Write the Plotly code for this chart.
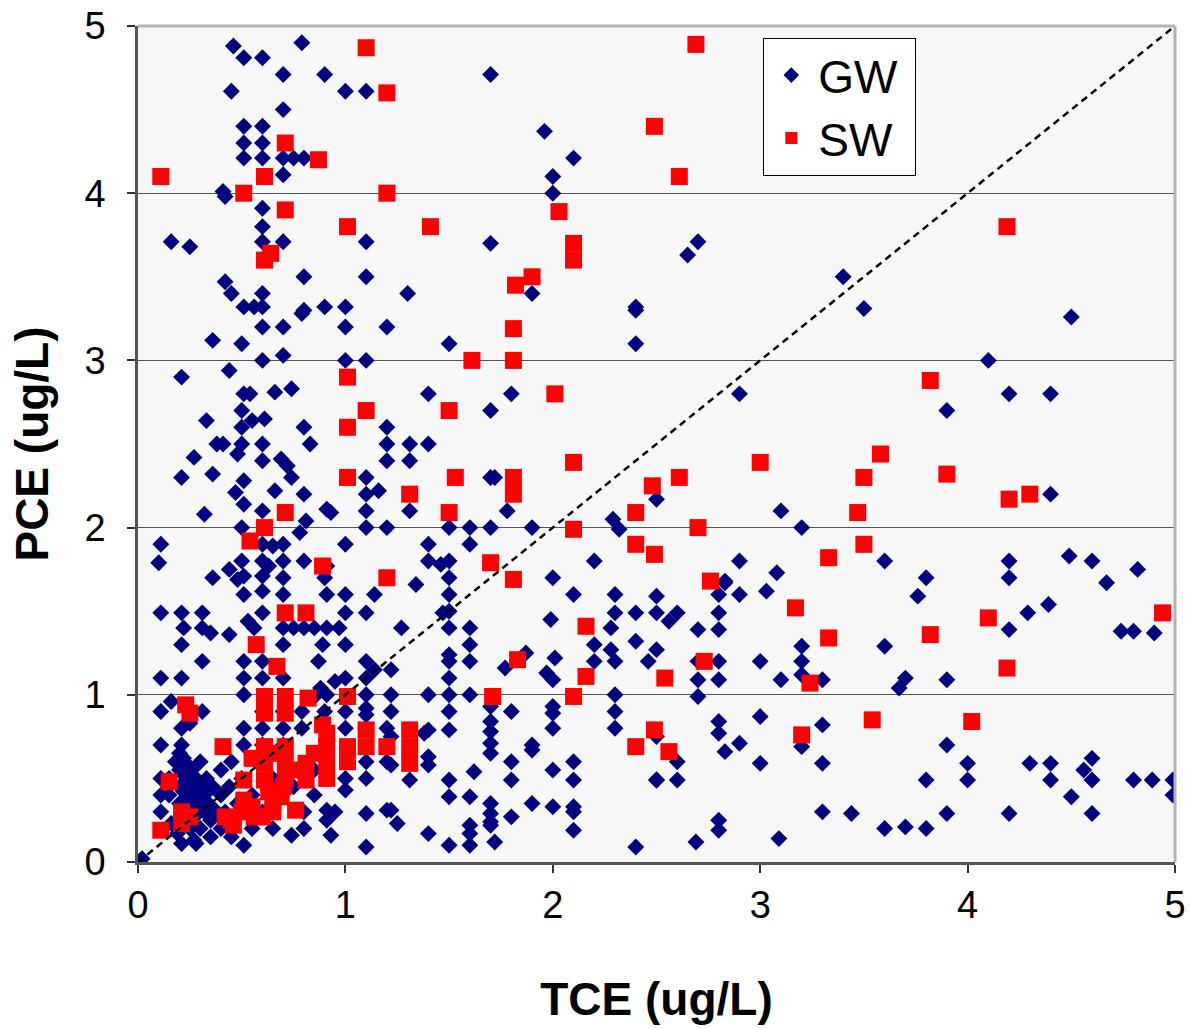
import plotly.graph_objects as go

# ---------------- data ----------------
gw_x = [
    0.46, 0.79, 0.51, 0.60, 0.70, 0.90, 0.45, 1.00, 1.10, 0.70,
    0.51, 0.60, 0.51, 0.60, 0.51, 0.60, 0.70, 0.75, 0.80, 0.70,
    0.41, 0.42, 0.60, 0.60, 0.16, 0.25, 0.60, 0.70, 1.10, 0.80, 1.10,
    0.42, 0.45, 0.60, 0.51, 0.56, 0.60, 0.80, 0.90, 1.00, 0.79,
    1.70, 1.96, 2.10, 2.00, 2.00, 1.70, 1.30, 1.90, 2.40,
    2.70, 2.65, 3.40, 3.50, 4.50,
    0.60, 0.70, 1.00, 1.20, 0.36, 0.50, 0.60, 0.70, 1.00, 1.10,
    0.44, 0.21, 0.51, 0.54, 0.66, 0.74, 0.50, 0.33, 0.50, 0.55, 0.61, 0.80, 1.20,
    0.38, 0.41, 0.50, 0.60, 0.83, 1.20, 0.48, 0.27, 0.60, 0.69, 0.72, 0.74, 1.20,
    0.21, 0.36, 0.51, 1.10, 1.10, 1.16, 0.47, 0.51, 0.66, 0.80, 0.91, 0.93, 1.10, 0.32, 0.60, 0.81, 0.50, 1.10, 1.20, 0.78,
    0.11, 0.10, 0.60, 0.65, 0.70, 1.00, 0.50, 0.60, 0.63, 0.70, 0.80, 0.91,
    0.36, 0.44, 0.48, 0.51, 0.60, 0.70, 0.90,
    2.40, 2.40, 1.50, 1.40, 1.80, 1.70, 1.31, 1.40, 1.31,
    1.70, 1.72, 1.31, 1.78, 1.50, 1.60, 1.70, 1.90, 2.29, 2.32, 2.50,
    1.40, 1.60, 1.40, 1.46, 1.50, 2.20, 1.50, 1.34, 2.00,
    2.90, 3.10, 3.20, 2.90, 3.08, 2.83, 3.60,
    4.10, 4.20, 4.40, 3.90, 4.40, 3.80, 4.20, 4.20, 4.49, 4.60, 4.82, 4.67,
    3.76, 4.29, 4.39, 4.20, 4.74, 4.80, 4.90, 3.90, 3.90, 4.00, 4.00, 3.80, 4.30, 4.40, 4.40,
    4.60, 4.56, 4.60, 4.50, 4.80, 4.89, 4.99, 4.99, 3.90, 4.20, 4.60, 3.80,
    2.50, 2.80, 2.90, 3.03, 2.83, 2.50, 2.60, 2.56, 2.80, 2.70, 2.80, 2.50, 2.70, 2.80, 3.00,
    3.20, 3.20, 3.20, 3.60, 2.70, 2.80, 3.10, 3.30, 2.70, 3.70, 3.67, 2.80, 2.80, 3.00, 3.30,
    2.50, 2.90, 2.83, 3.20, 2.60, 2.50, 2.60, 3.00, 3.30, 3.30, 3.44, 2.80, 2.80, 2.69, 3.09, 3.60, 3.70,
    1.50, 1.50, 1.47, 1.50, 1.60, 1.27, 2.10, 2.30, 2.30, 2.40, 1.99, 2.28, 2.20, 2.20,
    1.60, 1.60, 1.50, 1.50, 1.50, 1.87, 1.77, 2.01, 1.97, 2.00, 2.28, 2.30, 2.40, 2.46,
    1.22, 1.22, 1.40, 1.50, 1.60, 2.30, 1.22, 1.50, 2.00, 2.00, 1.80, 2.30,
    1.70, 1.70, 1.70, 1.70, 1.70, 1.40, 1.38, 1.50, 2.00, 2.30, 1.22, 1.22, 1.90, 1.90,
    1.40, 1.40, 1.80, 1.80, 1.62, 2.00, 2.10, 2.10, 1.31, 1.50, 1.50, 1.60, 1.90, 2.00,
    1.22, 1.25, 1.70, 1.70, 1.70, 1.70, 1.72, 1.80, 2.10, 2.10, 2.10, 1.60, 1.60, 1.60,
    1.40, 1.50, 2.40, 2.50,
    0.11, 0.21, 0.31, 0.60, 1.10, 1.00, 0.22, 0.31, 0.35, 0.44, 0.53, 0.56, 0.70, 0.75,
    0.80, 0.85, 0.91, 0.97, 0.60, 0.70, 0.51, 0.91, 1.00, 1.14,
    0.21, 0.70, 0.89, 1.00, 0.51, 0.60, 0.87, 0.31, 1.10, 1.14,
    0.11, 0.21, 0.51, 0.60, 0.70, 0.88, 0.95, 1.00, 1.10,
    0.51, 0.86, 0.91, 1.10,
    0.11, 0.16, 0.31, 0.60, 0.70, 0.79, 0.90, 1.00, 1.10, 1.10,
    0.21, 0.25, 0.51, 0.60, 0.70, 0.79, 1.00, 1.10, 1.20,
    0.11, 0.21, 0.51, 0.60, 0.70, 0.91, 1.10, 1.20, 1.10, 1.00, 1.00,
    0.91, 0.91, 0.93, 1.10, 1.20, 1.10, 0.80, 0.74, 0.51, 0.28, 0.21, 0.02,
    0.15, 0.15, 0.11, 0.11, 0.11, 0.18, 0.20, 0.20, 0.20, 0.20, 0.20, 0.22, 0.22, 0.22, 0.23,
    0.24, 0.24, 0.24, 0.25, 0.25, 0.26, 0.26, 0.27, 0.28, 0.28, 0.28, 0.30, 0.30, 0.30, 0.32,
    0.32, 0.34, 0.35, 0.36, 0.38, 0.40, 0.40, 0.42, 0.44, 0.45, 0.30, 0.33, 0.35, 0.27, 0.19,
    0.16, 0.48, 0.50, 0.55, 0.55, 0.60, 0.65, 0.65, 0.75, 0.85, 0.85, 0.80, 0.95, 0.45, 0.40, 0.50,
]
gw_y = [
    4.88, 4.90, 4.81, 4.81, 4.71, 4.71, 4.61, 4.61, 4.61, 4.50,
    4.40, 4.40, 4.30, 4.30, 4.21, 4.21, 4.21, 4.21, 4.21, 4.11,
    4.01, 3.98, 3.91, 3.80, 3.71, 3.68, 3.71, 3.71, 3.71, 3.50, 3.50,
    3.47, 3.40, 3.40, 3.32, 3.32, 3.32, 3.30, 3.32, 3.32, 3.28,
    4.71, 4.37, 4.21, 4.10, 4.00, 3.70, 3.40, 3.40, 3.32,
    3.71, 3.63, 3.50, 3.31, 3.26,
    3.20, 3.20, 3.20, 3.20, 3.12, 3.10, 3.00, 3.03, 3.00, 3.00,
    2.94, 2.90, 2.80, 2.80, 2.81, 2.83, 2.70, 2.64, 2.60, 2.64, 2.65, 2.60, 2.60,
    2.50, 2.50, 2.50, 2.50, 2.50, 2.50, 2.44, 2.42, 2.40, 2.41, 2.37, 2.30, 2.40,
    2.30, 2.32, 2.28, 2.30, 2.20, 2.22, 2.21, 2.14, 2.22, 2.20, 2.11, 2.09, 2.10, 2.08, 2.10, 2.04, 2.00, 2.00, 2.00, 1.97,
    1.90, 1.79, 1.90, 1.89, 1.90, 1.90, 1.80, 1.80, 1.77, 1.80, 1.80, 1.77,
    1.70, 1.75, 1.69, 1.71, 1.71, 1.70, 1.70,
    3.30, 3.10, 3.10, 2.80, 2.80, 2.70, 2.50, 2.50, 2.40,
    2.30, 2.30, 2.10, 2.10, 2.00, 2.00, 2.00, 2.00, 2.05, 1.99, 2.17,
    1.90, 1.90, 1.80, 1.78, 1.80, 1.80, 1.70, 1.66, 1.70,
    2.80, 2.10, 2.00, 1.80, 1.73, 1.68, 1.80,
    3.00, 2.80, 2.80, 2.70, 2.20, 1.70, 1.80, 1.70, 1.83, 1.80, 1.75, 1.67,
    1.59, 1.49, 1.54, 1.39, 1.38, 1.38, 1.37, 1.09, 0.70, 0.59, 0.49, 0.49, 0.59, 0.59, 0.49,
    0.62, 0.55, 0.49, 0.39, 0.49, 0.49, 0.49, 0.40, 0.29, 0.29, 0.29, 0.20,
    1.59, 1.60, 1.60, 1.62, 1.67, 1.49, 1.49, 1.44, 1.49, 1.39, 1.39, 1.27, 1.20, 1.20, 1.20,
    1.29, 1.20, 1.12, 1.29, 1.09, 1.09, 1.09, 1.09, 0.99, 1.10, 1.04, 0.84, 0.77, 0.87, 0.82,
    0.75, 0.71, 0.66, 0.69, 0.60, 0.49, 0.49, 0.59, 0.59, 0.30, 0.29, 0.25, 0.19, 0.12, 0.14, 0.20, 0.21,
    1.60, 1.50, 1.49, 1.40, 1.40, 1.40, 1.60, 1.60, 1.49, 1.49, 1.45, 1.40, 1.30, 1.20,
    1.30, 1.20, 1.24, 1.20, 1.10, 1.25, 1.16, 1.22, 1.13, 1.09, 1.27, 1.20, 1.32, 1.20,
    1.15, 1.00, 1.00, 1.00, 1.00, 1.00, 0.90, 0.90, 0.93, 0.89, 0.90, 0.90,
    0.93, 0.84, 0.78, 0.71, 0.65, 0.79, 0.77, 0.79, 0.80, 0.80, 0.75, 0.58, 0.70, 0.67,
    0.63, 0.58, 0.60, 0.49, 0.54, 0.55, 0.60, 0.49, 0.49, 0.49, 0.39, 0.39, 0.35, 0.33,
    0.31, 0.23, 0.35, 0.29, 0.24, 0.22, 0.12, 0.27, 0.33, 0.30, 0.19, 0.22, 0.17, 0.10,
    0.17, 0.10, 0.09, 0.49,
    1.49, 1.49, 1.49, 1.49, 1.49, 1.49, 1.40, 1.40, 1.37, 1.36, 1.44, 1.40, 1.40, 1.40,
    1.40, 1.40, 1.40, 1.40, 1.62, 1.60, 1.60, 1.60, 1.60, 1.60,
    1.30, 1.30, 1.30, 1.30, 1.20, 1.20, 1.20, 1.20, 1.20, 1.15,
    1.10, 1.10, 1.10, 1.10, 1.10, 1.04, 1.08, 1.10, 1.10,
    1.00, 1.00, 1.00, 1.00,
    0.90, 0.96, 0.90, 0.90, 0.90, 0.90, 0.90, 0.90, 0.92, 0.88,
    0.80, 0.83, 0.80, 0.80, 0.80, 0.80, 0.80, 0.80, 0.80,
    0.70, 0.70, 0.70, 0.70, 0.70, 0.60, 0.60, 0.60, 0.50, 0.50, 0.43,
    0.31, 0.25, 0.16, 0.29, 0.31, 0.09, 0.20, 0.16, 0.10, 0.11, 0.11, 0.02,
    0.50, 0.40, 0.50, 0.40, 0.30, 0.60, 0.65, 0.55, 0.45, 0.35, 0.25, 0.62, 0.52, 0.42, 0.33,
    0.58, 0.48, 0.38, 0.30, 0.20, 0.55, 0.45, 0.35, 0.50, 0.40, 0.28, 0.45, 0.35, 0.20, 0.40,
    0.30, 0.35, 0.25, 0.45, 0.30, 0.40, 0.20, 0.30, 0.45, 0.15, 0.60, 0.50, 0.15, 0.13, 0.17,
    0.23, 0.35, 0.50, 0.40, 0.20, 0.30, 0.50, 0.20, 0.45, 0.40, 0.55, 0.30, 0.30, 0.60, 0.55, 0.30,
]

sw_x = [
    1.10, 1.20, 0.71, 0.87, 0.11, 0.61, 0.51, 1.20, 0.71, 1.01, 0.64, 0.61,
    2.49, 2.03, 1.41, 2.10, 2.10, 1.82, 1.90, 2.69, 2.61, 4.19,
    1.01, 1.10, 1.01, 1.01, 0.71, 0.61, 0.54, 0.89, 1.20,
    1.81, 1.61, 1.81, 2.01, 1.50, 2.10, 1.53, 1.81, 1.81, 1.31, 1.50, 2.10, 2.40, 2.40, 2.49, 2.48, 1.70, 1.81,
    3.00, 3.58, 3.50, 2.61, 3.47, 3.50, 2.70, 3.33, 2.76,
    3.82, 3.90, 4.20, 4.30,
    3.82, 4.10, 4.94, 4.19, 4.02, 3.17, 3.33, 2.73, 2.54, 3.24, 3.54, 3.20, 2.49, 2.56,
    2.16, 1.83, 2.16, 1.71, 2.10, 1.31, 1.31, 1.31, 2.40,
    0.71, 0.81, 0.57, 0.67, 0.61, 0.61, 0.71, 0.71, 0.82, 1.01, 0.23, 0.25, 0.89, 0.91,
    1.10, 0.41, 0.61, 0.71, 0.91, 0.91, 0.91, 1.01, 1.01, 1.10, 1.20, 0.55, 0.71, 0.71,
    0.61, 0.61, 0.63, 0.81, 0.81, 0.51, 0.15, 0.69, 0.76, 0.51, 0.51, 0.42, 0.46, 0.56,
    0.60, 0.65, 0.21, 0.25, 0.21, 0.11, 0.50, 0.45, 0.55, 0.65, 0.70, 0.75, 0.85, 0.65,
]
sw_y = [
    4.87, 4.60, 4.30, 4.20, 4.10, 4.10, 4.00, 4.00, 3.90, 3.80, 3.64, 3.60,
    4.40, 3.89, 3.80, 3.70, 3.60, 3.45, 3.50, 4.89, 4.10, 3.80,
    2.90, 2.70, 2.60, 2.30, 2.09, 2.00, 1.92, 1.77, 1.70,
    3.19, 3.00, 3.00, 2.80, 2.70, 2.39, 2.30, 2.30, 2.20, 2.20, 2.09, 1.99, 2.09, 1.90, 1.84, 2.25, 1.79, 1.69,
    2.39, 2.44, 2.30, 2.30, 2.09, 1.90, 2.00, 1.82, 1.68,
    2.88, 2.32, 2.17, 2.20,
    1.36, 1.46, 1.49, 1.16, 0.84, 1.52, 1.34, 1.20, 1.10, 1.07, 0.85, 0.76, 0.79, 0.66,
    1.41, 1.21, 1.11, 0.99, 0.99, 0.79, 0.69, 0.59, 0.69,
    1.49, 1.49, 1.30, 1.17, 0.99, 0.89, 0.99, 0.89, 0.98, 0.99, 0.94, 0.89, 0.82, 0.77,
    0.79, 0.69, 0.69, 0.69, 0.69, 0.60, 0.50, 0.69, 0.60, 0.69, 0.69, 0.62, 0.60, 0.50,
    0.59, 0.49, 0.42, 0.59, 0.49, 0.49, 0.48, 0.39, 0.31, 0.37, 0.33, 0.27, 0.22, 0.27,
    0.27, 0.30, 0.30, 0.27, 0.23, 0.19, 0.30, 0.25, 0.33, 0.35, 0.45, 0.55, 0.65, 0.65,
]

line_x = [0, 5]
line_y = [0, 5]
tick_vals = [0, 1, 2, 3, 4, 5]
tick_text = ["0", "1", "2", "3", "4", "5"]

FONT = "Arial, 'Liberation Sans', sans-serif"

fig = go.Figure()
fig.add_trace(go.Scatter(
    x=gw_x, y=gw_y, mode="markers", name="GW\u00a0",
    marker=dict(symbol="diamond", size=13, color="#000080", line=dict(width=0)),
))
fig.add_trace(go.Scatter(
    x=sw_x, y=sw_y, mode="markers", name="SW\u00a0",
    marker=dict(symbol="square", size=17, color="#ff0000", line=dict(width=0)),
))
fig.add_trace(go.Scatter(
    x=line_x, y=line_y, mode="lines", showlegend=False, hoverinfo="skip",
    line=dict(color="black", width=2.5, dash="7px,5px"),
))

fig.update_layout(
    width=1190, height=1028,
    margin=dict(l=138, r=15, t=26, b=166),
    paper_bgcolor="white",
    plot_bgcolor="#f7f7f7",
    font=dict(family=FONT, color="black"),
    showlegend=True,
    legend=dict(
        x=0.603, y=0.986, xanchor="left", yanchor="top",
        bgcolor="white", bordercolor="black", borderwidth=1,
        font=dict(size=46, family=FONT),
        itemsizing="constant",
        itemwidth=44,
        tracegroupgap=0,
    ),
    xaxis=dict(
        range=[0, 5], tickvals=tick_vals, ticktext=tick_text,
        automargin=False, ticklabeloverflow="allow",
        showgrid=False, zeroline=False,
        showline=True, linecolor="#555555", linewidth=2.5,
        ticks="outside", ticklen=8, tickcolor="#333333", tickwidth=1.5,
        tickfont=dict(size=38, family=FONT),
        title=dict(text="<b>TCE (ug/L)</b>", font=dict(size=46, family=FONT), standoff=58),
    ),
    yaxis=dict(
        range=[0, 5], tickvals=tick_vals, ticktext=tick_text,
        automargin=False, ticklabeloverflow="allow",
        showgrid=True, gridcolor="#555555", gridwidth=1.3,
        zeroline=False,
        showline=True, linecolor="#555555", linewidth=2.5,
        ticks="outside", ticklen=8, tickcolor="#333333", tickwidth=1.5,
        tickfont=dict(size=38, family=FONT),
        ticklabelstandoff=14,
        title=dict(text="<b>PCE (ug/L)</b>", font=dict(size=46, family=FONT), standoff=22),
    ),
    shapes=[
        dict(type="line", xref="paper", yref="paper", x0=0, x1=1, y0=1, y1=1,
             line=dict(color="#b3b3b3", width=3), layer="above"),
        dict(type="line", xref="paper", yref="paper", x0=1, x1=1, y0=0, y1=1,
             line=dict(color="#b3b3b3", width=3), layer="above"),
    ],
)

fig.write_html(
    "out.html",
    config={"displayModeBar": False},
    post_script="document.body.style.margin='0px';document.body.style.overflow='hidden';",
)
